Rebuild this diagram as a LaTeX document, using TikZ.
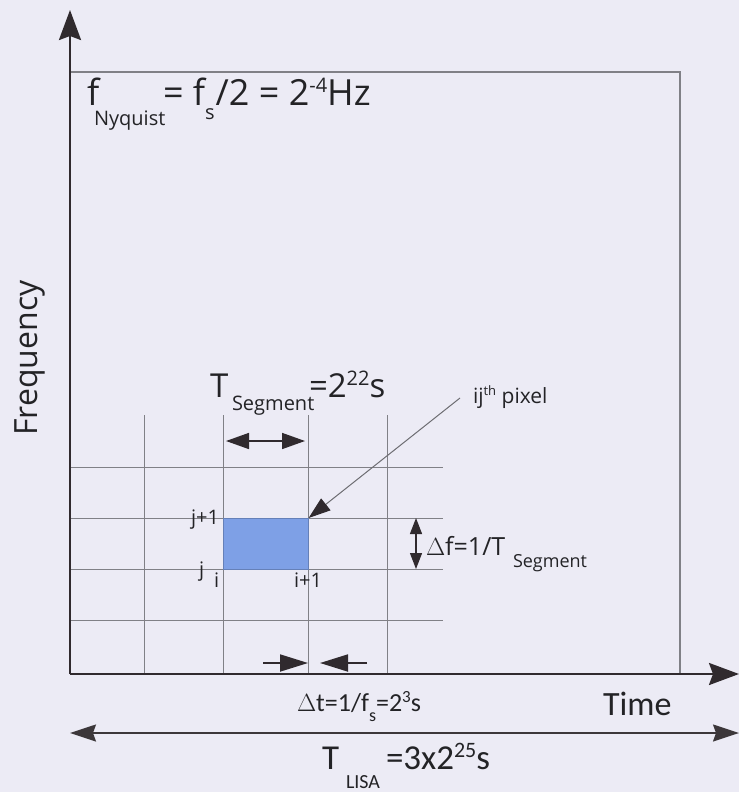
\documentclass[tikz,border=0pt]{standalone}
\usepackage{fontspec}
\setmainfont{Open Sans}
\newfontfamily\carl{Carlito}
\usetikzlibrary{arrows.meta}
\definecolor{bg}{RGB}{236,235,245}
\definecolor{axisc}{RGB}{48,42,46}
\definecolor{gridc}{RGB}{128,128,134}
\definecolor{pixc}{RGB}{126,160,230}
\definecolor{txtc}{RGB}{35,35,38}
\newcommand{\fs}[1]{\fontsize{#1}{#1}\selectfont}
\begin{document}
\begin{tikzpicture}[x=1pt,y=-1pt,
  txt/.style={inner sep=0pt, outer sep=0pt, text=txtc, anchor=base west},
  axisline/.style={draw=axisc, line width=2.6pt, -{Stealth[length=30pt,width=22pt,inset=4pt]}},
  gridline/.style={draw=gridc, line width=0.7pt},
  frameline/.style={draw=gridc, line width=1.1pt},
  dimarrow/.style={draw=axisc, line width=1.6pt, {Triangle[length=23pt,width=16pt]}-{Triangle[length=23pt,width=16pt]}},
  smallarrow/.style={draw=axisc, line width=1.8pt, -{Triangle[length=28pt,width=17pt]}},
  vdim/.style={draw=axisc, line width=1.3pt, {Triangle[length=16pt,width=12pt]}-{Triangle[length=16pt,width=12pt]}},
  pointer/.style={draw=gridc!85!black, line width=1pt, -{Triangle[length=22pt,width=15pt,color=axisc]}},
  lisaarrow/.style={draw=axisc!85!gray, line width=1.5pt, {Stealth[length=26pt,width=17pt,inset=3pt]}-{Stealth[length=26pt,width=17pt,inset=3pt]}}
]
\fill[bg] (0,0) rectangle (739,792);
\useasboundingbox (0,0) rectangle (739,792);

% named points
\coordinate (O) at (70,674);
\coordinate (ytip) at (70,10);
\coordinate (xtip) at (739,674);
\coordinate (tl) at (70,72);
\coordinate (tr) at (680,72);
\coordinate (br) at (680,674);

% frame
\draw[frameline] (tl) -- (tr) -- (br);

% grid
\foreach \x in {144,223,308,387} \draw[gridline] (\x,415) -- (\x,674);
\foreach \y in {467,518,569,620} \draw[gridline] (70,\y) -- (443,\y);

% pixel
\node[draw=pixc!80!black, line width=0.6pt, fill=pixc, minimum width=85pt, minimum height=51pt, inner sep=0pt, anchor=north west] (pixel) at (223,518) {};

% axes
\draw[axisline] (O) -- (ytip);
\draw[axisline] (O) -- (xtip);

% axis labels
\node[inner sep=0pt, text=txtc, rotate=90, font=\fs{32}] (freq) at (30,358) {Frequency};
\node[txt, font=\carl\fs{34}] (time) at (603,715) {Time};

% Nyquist
\node[txt, font=\fs{36}] (fny) at (87,105) {f};
\node[txt, font=\fs{20}] (nyq) at (94,125) {Nyquist};
\node[txt, font=\fs{36}] (eqny) at (163,105) {= f\raisebox{-14pt}{\fs{20}s}\hspace{1pt}/2 = 2\raisebox{13pt}{\fs{20}-4}Hz};

% T segment
\node[txt, font=\fs{33}] (tseg) at (210,397) {T};
\node[txt, font=\fs{20}] (segsub) at (232,410) {Segment};
\node[txt, font=\fs{33}] (tsegval) at (309,397) {=2\raisebox{12pt}{\fs{20}22}s};
\coordinate (segL) at (226,441);
\coordinate (segR) at (305,441);
\draw[dimarrow] (segL) -- (segR);

% pixel labels
\node[txt, font=\fs{20}, anchor=base east] (jp1) at (219,524) {j+1};
\node[txt, font=\fs{20}] (jlab) at (199,576) {j};
\node[txt, font=\fs{20}] (ilab) at (214,587) {i};
\node[txt, font=\fs{20}] (ip1) at (294,587) {i+1};

% ij-th pixel pointer
\node[txt, font=\fs{21}] (ijlab) at (473,403) {ij\raisebox{8pt}{\fs{13}th} pixel};
\coordinate (pstart) at (460,398);
\draw[pointer] (pstart) -- (pixel.north east);

% delta f
\coordinate (dfT) at (416,518);
\coordinate (dfB) at (416,569);
\draw[vdim] (dfT) -- (dfB);
\node[txt, font=\fs{25}] (dflab) at (426,555) {\(\Delta\)f=1/T};
\node[txt, font=\fs{18}] (dfsub) at (513,567) {Segment};

% delta t
\coordinate (dtA) at (263,663);
\coordinate (dtB) at (308,663);
\coordinate (dtC) at (367,663);
\coordinate (dtD) at (320,663);
\draw[smallarrow] (dtA) -- (dtB);
\draw[smallarrow] (dtC) -- (dtD);
\node[txt, font=\carl\fs{26}] (dtlab) at (297,711) {\(\Delta\)t=1/f\raisebox{-10pt}{\fs{18}s}=2\raisebox{9pt}{\fs{17}3}s};

% T LISA
\coordinate (lisaL) at (70,733);
\coordinate (lisaR) at (739,733);
\draw[lisaarrow] (lisaL) -- (lisaR);
\node[txt, font=\carl\fs{35}] (tlisa) at (322,769) {T};
\node[txt, font=\carl\fs{20}] (lisasub) at (346,788) {LISA};
\node[txt, font=\carl\fs{35}] (lisaval) at (386,769) {=3x2\raisebox{12pt}{\fs{22}25}s};
\end{tikzpicture}
\end{document}
